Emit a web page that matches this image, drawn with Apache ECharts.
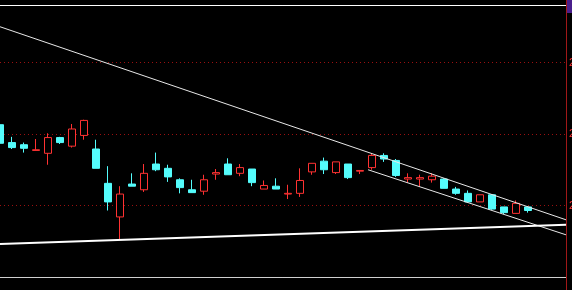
<!DOCTYPE html>
<html>
<head>
<meta charset="utf-8">
<script src="https://cdn.jsdelivr.net/npm/echarts@6/dist/echarts.min.js"></script>
<style>
html,body{margin:0;padding:0;background:#000;}
#c{width:572px;height:290px;}
</style>
</head>
<body>
<div id="c"></div>
<script>
// trading-day index (slot position on the time axis)
const days = [0,1,2,3,4,5,6,7,8,9,10,11,12,13,14,15,16,17,18,19,20,21,22,23,24,25,26,27,28,29,30,31,32,33,34,35,36,37,38,39,40,41,42,43,44];
const opens  = [21.13,20.88,20.85,20.77,20.73,20.95,20.83,20.98,20.79,20.31,19.84,20.30,20.22,20.58,20.52,20.36,20.22,20.20,20.44,20.58,20.45,20.51,20.23,20.27,20.16,20.17,20.47,20.62,20.46,20.58,20.48,20.53,20.70,20.63,20.37,20.37,20.36,20.37,20.23,20.17,20.05,20.15,19.98,19.89,19.98];
const closes = [20.87,20.81,20.80,20.78,20.95,20.88,21.07,21.19,20.52,20.05,20.16,20.27,20.45,20.50,20.40,20.25,20.18,20.36,20.46,20.43,20.53,20.32,20.28,20.23,20.17,20.35,20.59,20.50,20.61,20.39,20.49,20.70,20.65,20.42,20.39,20.39,20.41,20.24,20.17,20.05,20.15,19.95,19.90,20.03,19.93];
const lows   = [20.86,20.79,20.74,20.77,20.57,20.86,20.81,20.92,20.52,19.93,19.53,20.27,20.19,20.48,20.33,20.17,20.18,20.15,20.36,20.43,20.41,20.27,20.23,20.23,20.09,20.12,20.43,20.44,20.44,20.37,20.44,20.50,20.61,20.40,20.32,20.26,20.32,20.24,20.15,20.05,20.05,19.94,19.88,19.89,19.90];
const highs  = [21.14,20.96,20.88,20.93,21.01,20.96,21.14,21.20,20.92,20.55,20.27,20.45,20.58,20.74,20.57,20.38,20.36,20.43,20.51,20.66,20.58,20.51,20.35,20.38,20.29,20.52,20.59,20.67,20.61,20.58,20.49,20.73,20.73,20.65,20.45,20.43,20.45,20.38,20.26,20.21,20.15,20.16,19.98,20.07,19.99];

// trend lines: [dayIndex, price] end points
const trendUpper   = [[0, 22.50], [47.17, 19.80]];
const trendLower   = [[30.67, 20.50], [47.17, 19.59]];
const trendSupport = [[0, 19.46], [47.17, 19.73]];

// axis range
const xMin = 0, xMax = 47.17;
const yMin = 19, yMax = 22.804, yStep = 1;

const candleData = days.map((d, i) => [d, opens[i], closes[i], lows[i], highs[i]]);

const chart = echarts.init(document.getElementById('c'), null, {renderer: 'canvas'});
const lineSeries = (data, w, col) => ({
  type: 'line', data: data, symbol: 'none', silent: true,
  lineStyle: {color: col, width: w}, animation: false, z: 3
});
chart.setOption({
  backgroundColor: '#000000',
  animation: false,
  grid: {left: 0, right: 6, top: 5, bottom: 13, containLabel: false, outerBoundsMode: 'none'},
  xAxis: [
    {type: 'value', min: xMin, max: xMax, position: 'bottom',
     axisLine: {show: true, lineStyle: {color: '#d0d0d0', width: 1}},
     axisTick: {show: false}, axisLabel: {show: false}, splitLine: {show: false}},
    {type: 'value', min: xMin, max: xMax, position: 'top',
     axisLine: {show: true, lineStyle: {color: '#ffffff', width: 1}},
     axisTick: {show: false}, axisLabel: {show: false}, splitLine: {show: false}}
  ],
  yAxis: {
    type: 'value', position: 'right', min: yMin, max: yMax, interval: yStep,
    axisLine: {show: false}, axisTick: {show: false},
    axisLabel: {show: true, color: '#ff3232', fontSize: 11, margin: 3,
      showMinLabel: false, showMaxLabel: false,
      formatter: v => v.toFixed(2)},
    splitLine: {show: true, lineStyle: {color: '#9a1010', type: [1, 3], width: 1}}
  },
  graphic: [
    {type: 'line', shape: {x1: 566.5, y1: 0, x2: 566.5, y2: 290},
     style: {stroke: '#a01818', lineWidth: 1}, z: 10},
    {type: 'rect', shape: {x: 567, y: 0, width: 5, height: 13},
     style: {fill: '#4a1f8c'}, z: 10}
  ],
  series: [
    {
      type: 'candlestick',
      data: candleData,
      encode: {x: 0, y: [1, 2, 3, 4]},
      barWidth: 8,
      clip: true,
      itemStyle: {
        color: '#000000', color0: '#54fcfc',
        borderColor: '#ff3232', borderColor0: '#54fcfc', borderWidth: 1
      },
      z: 2
    },
    lineSeries(trendUpper, 1, '#e8e8e8'),
    lineSeries(trendLower, 1, '#e8e8e8'),
    lineSeries(trendSupport, 2, '#ffffff')
  ]
});
</script>
</body>
</html>
